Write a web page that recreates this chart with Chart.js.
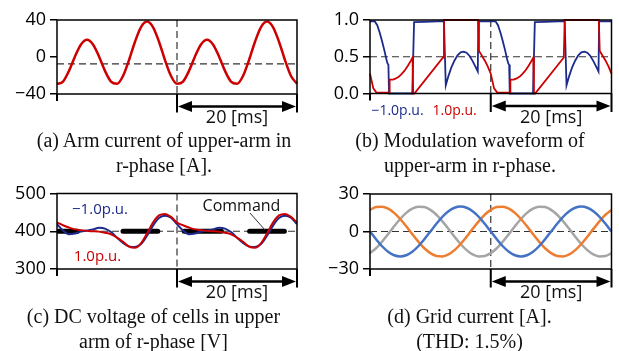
<!DOCTYPE html>
<html>
<head>
<meta charset="utf-8">
<script src="https://cdn.jsdelivr.net/npm/chart.js@4.4.1/dist/chart.umd.min.js"></script>
<style>
  body { margin: 0; background: #fff; }
  #fig { position: relative; width: 619px; height: 351px; overflow: hidden; background: #fff; }
  canvas { position: absolute; }
  .cap { position: absolute; width: 320px; text-align: center; white-space: nowrap;
         font-family: 'Liberation Serif', 'Times New Roman', serif; font-size: 20px; line-height: 25px; color: #111; }
</style>
</head>
<body>
<div id="fig">
  <canvas id="ca" width="310" height="130" style="left:0;top:0"></canvas>
  <canvas id="cb" width="309" height="130" style="left:310px;top:0"></canvas>
  <canvas id="cc" width="310" height="130" style="left:0;top:175px"></canvas>
  <canvas id="cd" width="309" height="130" style="left:310px;top:175px"></canvas>
  <div class="cap" style="left:4px;top:127.5px">(a) Arm current of upper-arm in<br>r-phase [A].</div>
  <div class="cap" style="left:310px;top:127.5px">(b) Modulation waveform of<br>upper-arm in r-phase.</div>
  <div class="cap" style="left:-6.5px;top:304px">(c) DC voltage of cells in upper<br>arm of r-phase [V]</div>
  <div class="cap" style="left:309.5px;top:304px">(d) Grid current [A].<br>(THD: 1.5%)</div>
</div>
<script>
// time axis [ms], two fundamental periods
const timeMs = [0,1,2,3,4,5,6,7,8,9,10,11,12,13,14,15,16,17,18,19,20,
                21,22,23,24,25,26,27,28,29,30,31,32,33,34,35,36,37,38,39,40];

// (a) arm current [A]
const armCurrent = [-29.0,-26.6,-15.0,0.6,13.5,18.6,13.5,0.6,-15.0,-26.6,-29.0,-20.5,-3.4,16.5,32.3,38.3,32.3,16.5,-3.4,-20.5,-29.0,
                    -26.6,-15.0,0.6,13.5,18.6,13.5,0.6,-15.0,-26.6,-29.0,-20.5,-3.4,16.5,32.3,38.3,32.3,16.5,-3.4,-20.5,-29.0];
const armCurrentAvg = -7.5;

// (b) modulation waveform, -1.0 p.u. (blue) and 1.0 p.u. (red)
const modNegT = [0,0.8,1.2,1.6,2.0,2.4,2.7,2.9,3.05,3.15,7.0,7.3,9.0,12.25,12.55,13.0,13.5,14.0,14.5,15.0,15.5,16.0,16.5,17.0,17.5,17.85,17.95,
                 20,20.8,21.2,21.6,22.0,22.4,22.7,22.9,23.05,23.15,27.0,27.3,29.0,32.25,32.55,33.0,33.5,34.0,34.5,35.0,35.5,36.0,36.5,37.0,37.5,37.85,37.95,40];
const modNegV = [0.98,0.98,0.93,0.83,0.71,0.58,0.47,0.41,0.39,0,0,0.97,0.975,0.985,0.11,0.24,0.36,0.45,0.52,0.56,0.57,0.555,0.51,0.44,0.36,0.30,0.98,
                 0.98,0.98,0.93,0.83,0.71,0.58,0.47,0.41,0.39,0,0,0.97,0.975,0.985,0.11,0.24,0.36,0.45,0.52,0.56,0.57,0.555,0.51,0.44,0.36,0.30,0.98,0.98];
const modPosT = [0,0.55,1.1,3.2,3.25,3.8,4.3,4.8,5.3,5.8,6.3,6.8,7.05,7.15,7.35,12.1,12.25,17.9,18.05,19.0,19.5,
                 20,20.55,21.1,23.2,23.25,23.8,24.3,24.8,25.3,25.8,26.3,26.8,27.05,27.15,27.35,32.1,32.25,37.9,38.05,39.0,39.5,40];
const modPosV = [0.27,0.07,0.01,0.01,0.19,0.19,0.205,0.23,0.27,0.32,0.38,0.45,0.49,0,0,0.49,1.0,1.0,0.58,0.45,0.37,
                 0.27,0.07,0.01,0.01,0.19,0.19,0.205,0.23,0.27,0.32,0.38,0.45,0.49,0,0,0.49,1.0,1.0,0.58,0.45,0.37,0.27];

// (c) DC voltage of cells [V]
const vdcNeg = [419,402,392,394,399,402,405,409,407,398,383,369,360,358,366,388,415,435,441,436,419,
                402,392,394,399,402,405,409,407,398,383,369,360,358,366,388,415,435,441,436,419];
const vdcPos = [423,416,410,405,403,401,400,399,396,392,383,372,359,356,368,394,423,442,446,438,423,
                416,410,405,403,401,400,399,396,392,383,372,359,356,368,394,423,442,446,438,423];
const cmdStart = [0.3, 11.0, 21.2, 32.1];
const cmdEnd = [3.4, 16.8, 27.4, 37.9];
const cmdLevel = 400;

// (d) grid current [A]
const gridR = [0,-6.2,-11.8,-16.2,-19.0,-20,-19.0,-16.2,-11.8,-6.2,0,6.2,11.8,16.2,19.0,20,19.0,16.2,11.8,6.2,0,
               -6.2,-11.8,-16.2,-19.0,-20,-19.0,-16.2,-11.8,-6.2,0,6.2,11.8,16.2,19.0,20,19.0,16.2,11.8,6.2,0];
const gridS = [17.3,19.6,19.9,18.3,14.9,10,4.2,-2.1,-8.1,-13.4,-17.3,-19.6,-19.9,-18.3,-14.9,-10,-4.2,2.1,8.1,13.4,17.3,
               19.6,19.9,18.3,14.9,10,4.2,-2.1,-8.1,-13.4,-17.3,-19.6,-19.9,-18.3,-14.9,-10,-4.2,2.1,8.1,13.4,17.3];
const gridT = [-17.3,-13.4,-8.1,-2.1,4.2,10,14.9,18.3,19.9,19.6,17.3,13.4,8.1,2.1,-4.2,-10,-14.9,-18.3,-19.9,-19.6,-17.3,
               -13.4,-8.1,-2.1,4.2,10,14.9,18.3,19.9,19.6,17.3,13.4,8.1,2.1,-4.2,-10,-14.9,-18.3,-19.9,-19.6,-17.3];

const RED = '#cc0000';
const NAVY = '#1c2a8c';
const FONT = "'Open Sans', 'Noto Sans', sans-serif";

Chart.defaults.font.family = FONT;
Chart.defaults.color = '#000';

const xy = (xs, ys) => xs.map((x, i) => ({ x: x, y: ys[i] }));
const minus = v => (v < 0 ? '\u2212' + Math.abs(v) : String(v));

// dashed reference lines, frame, time arrow and labels
const decor = {
  id: 'decor',
  beforeDatasetsDraw(chart, args, o) {
    const { ctx, chartArea: a, scales: { x, y } } = chart;
    ctx.save();
    ctx.strokeStyle = '#333';
    ctx.lineWidth = 1.2;
    ctx.setLineDash([7, 4]);
    ctx.beginPath();
    const yr = y.getPixelForValue(o.ref);
    ctx.moveTo(a.left, yr); ctx.lineTo(a.right, yr);
    const xm = x.getPixelForValue(20);
    ctx.moveTo(xm, a.top); ctx.lineTo(xm, a.bottom);
    ctx.stroke();
    ctx.restore();
  },
  afterDraw(chart, args, o) {
    const { ctx, chartArea: a, scales: { x } } = chart;
    ctx.save();
    ctx.strokeStyle = '#000';
    ctx.lineWidth = 1.5;
    ctx.strokeRect(a.left, a.top, a.right - a.left, a.bottom - a.top);

    // bottom ticks and 20 ms arrow
    const x0 = x.getPixelForValue(0), x1 = x.getPixelForValue(20), x2 = x.getPixelForValue(40);
    const ya = a.bottom + 12.5;
    ctx.lineWidth = 2;
    ctx.beginPath();
    ctx.moveTo(x0, a.bottom); ctx.lineTo(x0, a.bottom + 7);
    ctx.moveTo(x1, a.bottom); ctx.lineTo(x1, ya + 6);
    ctx.moveTo(x2, a.bottom); ctx.lineTo(x2, ya + 6);
    ctx.stroke();
    ctx.lineWidth = 2.5;
    ctx.beginPath();
    ctx.moveTo(x1 + 12, ya); ctx.lineTo(x2 - 12, ya);
    ctx.stroke();
    ctx.fillStyle = '#000';
    ctx.beginPath();
    ctx.moveTo(x1 + 1, ya); ctx.lineTo(x1 + 15, ya - 5.5); ctx.lineTo(x1 + 15, ya + 5.5); ctx.closePath();
    ctx.moveTo(x2 - 1, ya); ctx.lineTo(x2 - 15, ya - 5.5); ctx.lineTo(x2 - 15, ya + 5.5); ctx.closePath();
    ctx.fill();
    ctx.font = '18px ' + FONT;
    ctx.textAlign = 'center';
    ctx.textBaseline = 'middle';
    ctx.fillStyle = '#111';
    ctx.fillText('20 [ms]', (x1 + x2) / 2, a.bottom + 24);

    (o.notes || []).forEach(n => {
      ctx.font = n.size + 'px ' + FONT;
      ctx.fillStyle = n.color;
      const ny = n.fromBottom ? a.bottom + n.dy : a.top + n.dy;
      ctx.fillText(n.text, a.left + n.dx, ny);
    });
    (o.leaders || []).forEach(l => {
      ctx.strokeStyle = '#333';
      ctx.lineWidth = 1;
      ctx.beginPath();
      ctx.moveTo(a.left + l[0], a.top + l[1]);
      ctx.lineTo(a.left + l[2], a.top + l[3]);
      ctx.stroke();
    });
    ctx.restore();
  }
};

function panel(id, cfg) {
  return new Chart(document.getElementById(id), {
    type: 'line',
    data: { datasets: cfg.datasets },
    options: {
      responsive: false,
      animation: false,
      events: [],
      layout: { padding: cfg.padding },
      elements: { point: { radius: 0 } },
      scales: {
        x: {
          type: 'linear', min: 0, max: 40,
          grid: { display: false }, border: { display: false },
          ticks: { display: false },
          afterFit: s => { s.height = cfg.xh; }
        },
        y: {
          min: cfg.ymin, max: cfg.ymax,
          grid: { drawOnChartArea: false, tickLength: 7, color: '#000', lineWidth: 1.5 },
          border: { display: false },
          ticks: { stepSize: cfg.step, padding: 4, font: { size: 18 }, color: '#000', callback: cfg.fmt },
          afterFit: s => { s.width = cfg.yw; }
        }
      },
      plugins: {
        legend: { display: false },
        tooltip: { enabled: false },
        decor: { ref: cfg.ref, notes: cfg.notes, leaders: cfg.leaders }
      }
    },
    plugins: [decor]
  });
}

// (a)
panel('ca', {
  padding: { left: 0, top: 20, right: 13, bottom: 0 }, xh: 36, yw: 57,
  ymin: -40, ymax: 40, step: 40, fmt: minus, ref: armCurrentAvg,
  datasets: [{
    data: xy(timeMs, armCurrent), borderColor: RED, borderWidth: 2.5,
    cubicInterpolationMode: 'monotone', clip: false
  }]
});

// (b)
panel('cb', {
  padding: { left: 0, top: 20, right: 7.5, bottom: 0 }, xh: 36.5, yw: 60,
  ymin: 0, ymax: 1, step: 0.5, fmt: v => v.toFixed(1), ref: 0.5,
  notes: [
    { text: '\u22121.0p.u.', color: NAVY, size: 14, dx: 27.5, dy: 18, fromBottom: true },
    { text: '1.0p.u.', color: RED, size: 14, dx: 84.7, dy: 18, fromBottom: true }
  ],
  datasets: [
    { data: xy(modNegT, modNegV), borderColor: NAVY, borderWidth: 1.8, clip: false, order: 2 },
    { data: xy(modPosT, modPosV), borderColor: RED, borderWidth: 1.8, clip: false, order: 1 }
  ]
});

// (c)
const cmdData = [];
cmdStart.forEach((s, i) => {
  cmdData.push({ x: s, y: cmdLevel }, { x: cmdEnd[i], y: cmdLevel }, { x: cmdEnd[i], y: null });
});
panel('cc', {
  padding: { left: 0, top: 18.5, right: 13, bottom: 0 }, xh: 36, yw: 57,
  ymin: 300, ymax: 500, step: 100, fmt: minus, ref: 400,
  notes: [
    { text: '\u22121.0p.u.', color: NAVY, size: 15, dx: 43, dy: 15.8 },
    { text: '1.0p.u.', color: RED, size: 15, dx: 40.5, dy: 63.2 },
    { text: 'Command', color: '#111', size: 16, dx: 184.5, dy: 12.5 }
  ],
  leaders: [[193, 19.5, 208, 36.5]],
  datasets: [
    { data: cmdData, borderColor: '#000', borderWidth: 5, borderCapStyle: 'round', spanGaps: false, order: 3 },
    { data: xy(timeMs, vdcNeg), borderColor: NAVY, borderWidth: 2, cubicInterpolationMode: 'monotone', order: 2 },
    { data: xy(timeMs, vdcPos), borderColor: RED, borderWidth: 2, cubicInterpolationMode: 'monotone', order: 1 }
  ]
});

// (d)
panel('cd', {
  padding: { left: 0, top: 19, right: 7.5, bottom: 0 }, xh: 36, yw: 60,
  ymin: -30, ymax: 30, step: 30, fmt: minus, ref: 0,
  datasets: [
    { data: xy(timeMs, gridR), borderColor: '#4472c4', borderWidth: 2.5, cubicInterpolationMode: 'monotone', clip: false },
    { data: xy(timeMs, gridS), borderColor: '#ed7d31', borderWidth: 2.5, cubicInterpolationMode: 'monotone', clip: false },
    { data: xy(timeMs, gridT), borderColor: '#a5a5a5', borderWidth: 2.5, cubicInterpolationMode: 'monotone', clip: false }
  ]
});
</script>
</body>
</html>
